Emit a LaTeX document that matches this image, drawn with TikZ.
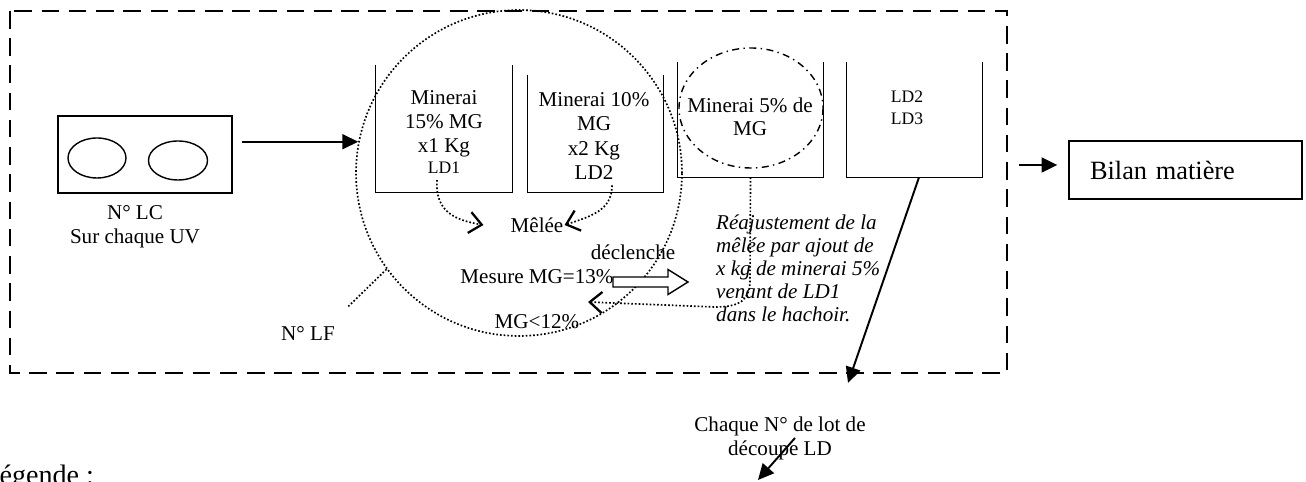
\documentclass[tikz,border=0pt]{standalone}
\usepackage{fontspec}
\setmainfont{Liberation Serif}
\usepackage{tikz}
\usetikzlibrary{calc,arrows.meta}

\begin{document}
\begin{tikzpicture}[x=0.02cm, y=-0.02cm,
  txt/.style={font=\fontsize{12}{13.7}\selectfont, align=center},
  smalltxt/.style={font=\fontsize{10}{12.5}\selectfont, align=center},
  bin/.style 2 args={minimum width=#1, minimum height=#2, inner sep=0pt},
  binWall/.style={line width=0.8pt},
  dotLine/.style={line width=0.95pt, dash pattern=on 0.95pt off 1.15pt},
  solidArrow/.style={line width=1.1pt, -{Triangle[length=9pt,width=8.5pt]}},
  openArrow/.style={dotLine, -{Straight Barb[length=7pt,width=12pt,line width=1.3pt]}}]
\useasboundingbox (0,0) rectangle (1306,482);

\draw[line width=1pt, dash pattern=on 10pt off 5.5pt] (10,11) rectangle (1007,373);

\node[draw, line width=0.8pt, minimum width=3.48cm, minimum height=1.54cm] (lc) at (145,154.5) {};
\draw[line width=0.8pt] (97,158) ellipse [x radius=29, y radius=20];
\draw[line width=0.8pt] (178,160.5) ellipse [x radius=29.5, y radius=19.5];
\node[txt] (lcnum) at (135,227) {N° LC\\Sur chaque UV};

\node[circle, draw, dotLine, minimum size=6.52cm, inner sep=0pt] (mix) at (519,173) {};
\draw[solidArrow] ($(lc.east |- mix.169)+(9,0)$) -- (mix.169);
\node[txt] (lf) at (308,333) {N° LF};
\draw[dotLine] (mix.216) -- ($(lf.north east)+(6,-12)$);

\node[bin={2.72cm}{2.54cm}] (b1) at (444,128.5) {};
\node[bin={2.7cm}{2.34cm}] (b2) at (595.5,133.5) {};
\node[bin={2.9cm}{2.3cm}] (b3) at (750.5,119.5) {};
\node[bin={2.7cm}{2.3cm}] (b4) at (914.5,119.5) {};
\draw[binWall] (b1.north west) |- (b1.south east) -- (b1.north east);
\draw[binWall] (b2.north west) |- (b2.south east) -- (b2.north east);
\draw[binWall] (b3.north west) |- (b3.south east) -- (b3.north east);
\draw[binWall] (b4.north west) |- (b4.south east) -- (b4.north east);

\node[txt] (ore15) at (444,124) {Minerai\\15\% MG\\x1 Kg};
\node[smalltxt] (ld1) at (444,168) {LD1};
\node[txt] (ore10) at (594,136) {Minerai 10\%\\MG\\x2 Kg\\LD2};
\node[txt, font=\fontsize{12}{13.1}\selectfont] (ore5) at (750,117) {Minerai 5\% de\\MG};
\draw[line width=0.8pt, dash pattern=on 4pt off 2.5pt on 0.8pt off 2.5pt] (751,108) ellipse [x radius=72, y radius=60];
\node[smalltxt] (ld23) at (907,108) {LD2\\LD3};

\node[txt] (melee) at (537,225) {Mêlée};
\draw[openArrow] ([xshift=-0.14cm]ld1.south) .. controls (435,212) and (455,220) .. ([xshift=-0.42cm]melee.west);
\draw[openArrow] ([xshift=0.36cm]ore10.south) .. controls (612,210) and (592,216) .. ([xshift=-0.1cm]melee.east);

\node[txt] (decl) at (633,252) {déclenche};
\node[txt] (mesure) at (537,277) {Mesure MG=13\%};
\draw[line width=0.8pt, fill=white] (613,277) -- (668,277) -- (668,269.5) -- (688,282) -- (668,294.5) -- (668,287) -- (613,287) -- cycle;
\node[txt] (seuil) at (537,322) {MG<12\%};

\node[txt, font=\fontsize{12}{13.1}\selectfont\itshape, align=left, anchor=west] (reaj) at (710,268)
  {Réajustement de la\\mêlée par ajout de\\x kg de minerai 5\%\\venant de LD1\\dans le hachoir.};
\coordinate (retour) at (588,302);
\draw[openArrow] (b3.south) -- (750,280) .. controls (750,300) and (740,307) .. (715,307) -- (retour);

\coordinate (lotDest) at (848,383);
\draw[solidArrow] ([xshift=0.09cm]b4.south) -- (lotDest);
\node[txt] (lot) at (780,438) {Chaque N° de lot de\\découpe LD};
\coordinate (lotEnd) at (758,480);
\draw[solidArrow] ([xshift=0.3cm]lot.center) -- (lotEnd);

\node[draw, line width=0.8pt, minimum height=1.16cm, text width=3.82cm, inner xsep=0.42cm, align=left,
  font=\fontsize{15}{17}\selectfont] (bilan) at (1185.5,170) {Bilan matière};
\draw[solidArrow] ($(bilan.west)+(-49,-5)$) -- ($(bilan.west)+(-11,-5)$);

\node[anchor=base west, inner sep=0pt, font=\fontsize{16}{19}\selectfont] (legende) at (-18,485) {Légende :};
\end{tikzpicture}
\end{document}
